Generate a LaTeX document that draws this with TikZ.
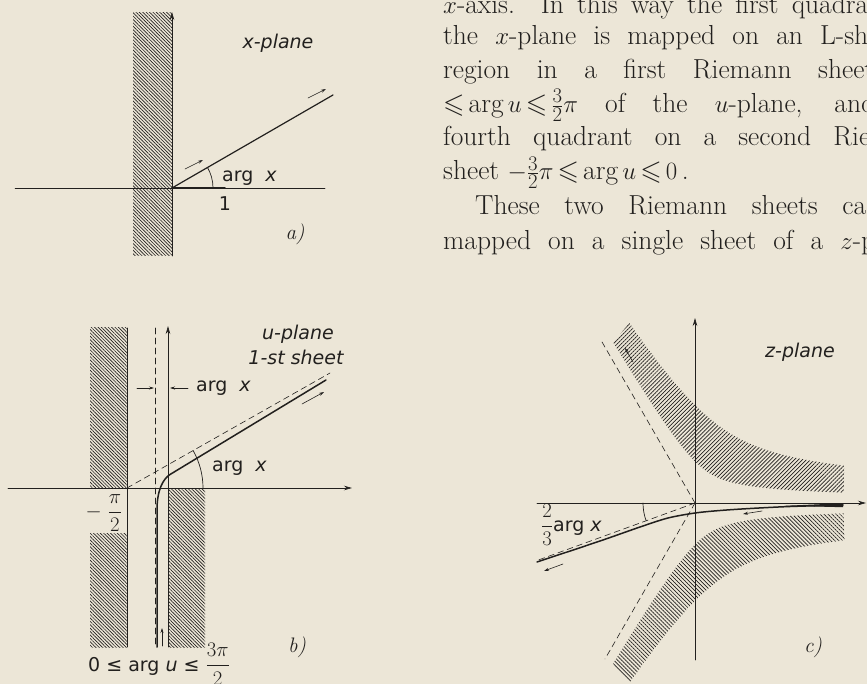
\documentclass[tikz,border=0pt]{standalone}
\usepackage{amsmath,amssymb}
\usepackage{fontspec}
\newfontfamily\labfont{DejaVu Sans}
\usetikzlibrary{patterns.meta,arrows.meta}
\definecolor{paper}{RGB}{236,230,215}
\definecolor{ink}{RGB}{34,32,30}
\newcommand{\paramuskips}{\thickmuskip=3mu\relax\medmuskip=3mu\relax}
\begin{document}
\begin{tikzpicture}[x=1pt,y=-1pt,line cap=round,
  axis/.style={ink,line width=0.7pt},
  axisarrow/.style={axis,-{Stealth[length=8pt,width=4.5pt]}},
  curve/.style={ink,line width=1.5pt},
  dashline/.style={ink,line width=0.6pt,dash pattern=on 6pt off 4pt},
  tickarrow/.style={ink,line width=0.6pt,-{Stealth[length=5pt,width=3pt]}},
  hatchNW/.style={pattern={Lines[angle=-45,distance=2.4pt,line width=0.65pt]},pattern color=ink},
  hatchNWc/.style={pattern={Lines[angle=-45,distance=2.8pt,line width=0.7pt]},pattern color=ink},
  hatchNE/.style={pattern={Lines[angle=45,distance=2.8pt,line width=0.7pt]},pattern color=ink},
  lab/.style={text=ink,font=\labfont\fontsize{19}{22}\selectfont,inner sep=0pt},
  panel/.style={text=ink,font=\fontsize{21}{24}\selectfont\itshape,inner sep=0pt},
  para/.style={text=ink,font=\fontsize{27.5}{33}\selectfont\paramuskips,anchor=base west,inner sep=0pt}]
\useasboundingbox (0,0) rectangle (867,684);
\fill[paper] (0,0) rectangle (867,684);
\clip (0,0) rectangle (867,684);

% ---------- text paragraph ----------
\node[para] (l1) at (443,14) {\makebox[425pt][s]{$x$-axis. In this way the first quadra}};
\node[para] (l2) at (443,45) {\makebox[425pt][s]{the $x$-plane is mapped on an L-sh}};
\node[para] (l3) at (443,78.5) {\makebox[431pt][s]{region in a first Riemann sheet}};
\node[para] (l4) at (443,112.5) {\makebox[432pt][s]{$\leqslant\arg u\leqslant\frac32\pi$ of the $u$-plane, and}};
\node[para] (l5) at (443,146) {\makebox[427pt][s]{fourth quadrant on a second Rie}};
\node[para] (l6) at (443,180) {sheet $-\frac32\pi\leqslant\arg u\leqslant0$\,.};
\node[para] (l7) at (475,215) {\makebox[391pt][s]{These two Riemann sheets ca}};
\node[para] (l8) at (443,250) {\makebox[432pt][s]{mapped on a single sheet of a $z$-p}};

% ---------- panel a ----------
\coordinate (Oa) at (172,188);
\fill[hatchNW] (133,13) rectangle (172,256);
\draw[axisarrow] (172,256) -- (172,12);
\draw[axis,line width=0.5pt] (15,188) -- (325,188);
\draw[curve,line width=1.6pt] (Oa) -- (225,188);
\draw[curve,line width=1.2pt] (Oa) -- (333,95);
\draw[tickarrow] (185,169) -- (203,160);
\draw[tickarrow] (308,98) -- (326,89);
\draw[axis] (213,188) arc[start angle=0,end angle=-30,radius=41];
\node[lab] (xpl) at (278,43) {\itshape x-plane};
\node[lab,anchor=west] (argxa) at (222,178) {arg\ \ {\itshape x}};
\node[lab] (one) at (225,204) {1};
\node[panel] (pa) at (295,234) {a)};

% ---------- panel b ----------
\coordinate (Cb) at (127,488);
\fill[hatchNW] (90,328) rectangle (127,488);
\fill[hatchNW] (90,533) rectangle (127,647);
\fill[hatchNW] (168,488) rectangle (205,647);
\draw[axis] (127,328) -- (127,647);
\draw[axisarrow] (168,647) -- (168,326);
\draw[axisarrow] (8,488) -- (352,488);
\draw[dashline] (155,328) -- (155,647);
\draw[dashline] (Cb) -- (330,373);
\draw[curve] (157,647) -- (157,510) .. controls (157,490) and (163,479) .. (170,474.5) -- (326,380);
\draw[axis] (203,488) arc[start angle=0,end angle=-29.5,radius=76];
\draw[tickarrow] (137,388) -- (154,388);
\draw[tickarrow] (188,388) -- (170,388);
\draw[tickarrow] (302,404) -- (324,392);
\draw[tickarrow] (162,646) -- (162,628);
\node[lab] (upl) at (298,334) {\itshape u-plane};
\node[lab] (sheet) at (296,357) {\itshape 1-st sheet};
\node[lab,anchor=west] (argxb1) at (196,388) {arg\ \ {\itshape x}};
\node[lab,anchor=west] (argxb2) at (212,468) {arg\ \ {\itshape x}};
\node[lab,font=\fontsize{20}{24}\selectfont] (mpi) at (104,513) {$-\;\dfrac{\pi}{2}$};
\node[panel] (pb) at (297,647) {b)};
\node[lab,anchor=base west] (range) at (88,671) {0 ≤ arg {\itshape u} ≤ {\fontsize{20}{24}\selectfont$\dfrac{3\pi}{2}$}};

% ---------- panel c ----------
\coordinate (Oc) at (695,503);
\begin{scope}[shift={(695,503)},yscale=-1]
  \fill[hatchNE] plot[domain=4:117,samples=90,variable=\t]
      ({pow(190/sin(1.5*\t),2/3)*cos(\t)},{pow(190/sin(1.5*\t),2/3)*sin(\t)})
    -- plot[domain=110:14,samples=90,variable=\t]
      ({pow(686/sin(1.5*\t),2/3)*cos(\t)},{pow(686/sin(1.5*\t),2/3)*sin(\t)})
    -- cycle;
  \begin{scope}[yscale=-1]
  \fill[hatchNWc] plot[domain=4:117,samples=90,variable=\t]
      ({pow(190/sin(1.5*\t),2/3)*cos(\t)},{pow(190/sin(1.5*\t),2/3)*sin(\t)})
    -- plot[domain=110:14,samples=90,variable=\t]
      ({pow(686/sin(1.5*\t),2/3)*cos(\t)},{pow(686/sin(1.5*\t),2/3)*sin(\t)})
    -- cycle;
  \end{scope}
\end{scope}
\draw[axisarrow] (695,660) -- (695,318);
\draw[axisarrow] (537,503) -- (866,503);
\draw[dashline] (Oc) -- (600,338.5);
\draw[dashline] (Oc) -- (605,659);
\draw[dashline] (Oc) -- (537,560.5);
\draw[axis] (643,503) arc[start angle=180,end angle=160,radius=52];
\draw[curve] plot[smooth] coordinates {(843,505) (790,506.5) (750,508.5) (720,510.5) (695,513) (668,518) (640,527) (600,541) (537,562)};
\fill[ink] (785,505.8) -- (843,503.2) -- (843,507.2) -- cycle;
\draw[tickarrow] (762,511) -- (743,514);
\draw[tickarrow] (563,564) -- (544,571);
\draw[tickarrow] (633,362) -- (625,348);
\node[lab] (zpl) at (800,352) {\itshape z-plane};
\node[lab,anchor=west] (twothirds) at (541,525) {{\fontsize{20}{24}\selectfont$\dfrac{2}{3}$}arg {\itshape x}};
\node[panel] (pc) at (813,647) {c)};
\end{tikzpicture}
\end{document}
